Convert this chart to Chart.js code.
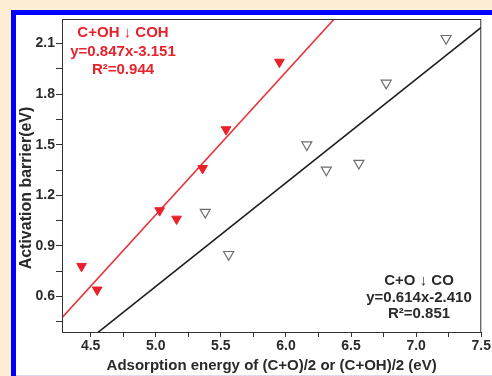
<!DOCTYPE html>
<html>
<head>
<meta charset="utf-8">
<script src="https://cdn.jsdelivr.net/npm/chart.js@4"></script>
<style>
  html, body { margin: 0; padding: 0; background: #fcefd6; }
  #wrap { width: 492px; height: 376px; position: relative; }
</style>
</head>
<body>
<div id="wrap"><canvas id="fitChart"></canvas></div>
<script>
// data
const cohX = [4.43, 4.55, 5.03, 5.16, 5.36, 5.54, 5.95];
const cohY = [0.78, 0.64, 1.11, 1.06, 1.36, 1.59, 1.99];
const coX = [5.38, 5.56, 6.16, 6.31, 6.56, 6.77, 7.23];
const coY = [1.10, 0.85, 1.50, 1.35, 1.39, 1.865, 2.13];

// linear fits (slope, intercept)
const cohFit = [0.847, -3.151];
const coFit = [0.614, -2.410];

const cohText = ['C+OH \u2193 COH', 'y=0.847x-3.151', 'R\u00B2=0.944'];
const coText = ['C+O \u2193 CO', 'y=0.614x-2.410', 'R\u00B2=0.851'];
const xTitle = 'Adsorption energy of (C+O)/2 or (C+OH)/2 (eV)';
const yTitle = 'Activation barrier(eV)';

const xRange = [4.28, 7.5];
const yRange = [0.39, 2.245];

const colors = {
  red: '#e8222b',
  redLine: '#e8343c',
  black: '#1e1e1e',
  open: '#6e6e6e',
  axis: '#333333',
  text: '#2a2a2a'
};
const fontFamily = '"Liberation Sans", Arial, sans-serif';

function toPoints(xs, ys) {
  return xs.map((x, i) => ({ x: x, y: ys[i] }));
}

function fitLine(fit) {
  return xRange.map(x => ({ x: x, y: fit[0] * x + fit[1] }));
}

// page background, blue frame, plot box, y title and annotations
const decorPlugin = {
  id: 'decor',
  beforeDraw(chart) {
    const ctx = chart.ctx;
    ctx.save();
    ctx.fillStyle = '#fcefd6';
    ctx.fillRect(0, 0, chart.width, chart.height);
    ctx.fillStyle = '#0000ff';
    ctx.fillRect(11, 10, chart.width - 11, chart.height - 10);
    ctx.fillStyle = '#ffffff';
    ctx.fillRect(16, 15, chart.width - 16, chart.height - 15);
    ctx.fillStyle = '#dcdcf0';
    ctx.fillRect(16, chart.height - 1, chart.width - 16, 1);
    ctx.restore();
  },
  afterDraw(chart) {
    const ctx = chart.ctx;
    const a = chart.chartArea;
    ctx.save();
    ctx.strokeStyle = colors.axis;
    ctx.lineWidth = 1;
    ctx.strokeRect(a.left + 0.5, a.top + 0.5, a.right - a.left - 1, a.bottom - a.top);

    ctx.textAlign = 'center';
    ctx.textBaseline = 'middle';
    ctx.fillStyle = colors.text;
    ctx.font = 'bold 16px ' + fontFamily;
    ctx.translate(27, 188);
    ctx.rotate(-Math.PI / 2);
    ctx.fillText(yTitle, 0, 0);
    ctx.setTransform(1, 0, 0, 1, 0, 0);

    ctx.font = 'bold 15px ' + fontFamily;
    ctx.fillStyle = colors.red;
    cohText.forEach((t, i) => ctx.fillText(t, a.left + 61, a.top + 14 + i * 18.5));
    ctx.fillStyle = colors.text;
    coText.forEach((t, i) => ctx.fillText(t, a.left + 357, a.top + 262 + i * 16.5));
    ctx.restore();
  }
};

const tickFont = { family: fontFamily, size: 14, weight: 'bold' };

new Chart(document.getElementById('fitChart'), {
  type: 'scatter',
  data: {
    datasets: [
      {
        label: 'C+OH fit',
        type: 'line',
        data: fitLine(cohFit),
        borderColor: colors.redLine,
        borderWidth: 1.6,
        pointRadius: 0,
        clip: 0,
        order: 3
      },
      {
        label: 'C+O fit',
        type: 'line',
        data: fitLine(coFit),
        borderColor: colors.black,
        borderWidth: 1.6,
        pointRadius: 0,
        clip: 0,
        order: 3
      },
      {
        label: 'C+OH -> COH',
        data: toPoints(cohX, cohY),
        pointStyle: 'triangle',
        rotation: 180,
        pointRadius: 5.6,
        backgroundColor: colors.red,
        borderColor: colors.red,
        borderWidth: 1,
        order: 1
      },
      {
        label: 'C+O -> CO',
        data: toPoints(coX, coY),
        pointStyle: 'triangle',
        rotation: 180,
        pointRadius: 5.8,
        backgroundColor: '#ffffff',
        borderColor: colors.open,
        borderWidth: 1.2,
        order: 1
      }
    ]
  },
  plugins: [decorPlugin],
  options: {
    responsive: true,
    maintainAspectRatio: false,
    animation: false,
    layout: {
      padding: { left: 0, top: 19, right: 4, bottom: 0 }
    },
    plugins: {
      legend: { display: false },
      tooltip: { enabled: false }
    },
    scales: {
      x: {
        type: 'linear',
        min: xRange[0],
        max: xRange[1],
        afterFit: s => { s.height = 44; },
        border: { display: false },
        grid: {
          drawOnChartArea: false,
          drawTicks: true,
          tickLength: 5,
          tickColor: colors.axis
        },
        ticks: {
          stepSize: 0.25,
          includeBounds: false,
          autoSkip: false,
          maxRotation: 0,
          padding: 1,
          color: colors.text,
          font: tickFont,
          callback: v => (Math.round(v / 0.25) % 2 === 0 ? v.toFixed(1) : '')
        },
        title: {
          display: true,
          text: xTitle,
          color: colors.text,
          font: { family: fontFamily, size: 15, weight: 'bold' },
          padding: { top: 0, bottom: 1 }
        }
      },
      y: {
        type: 'linear',
        min: yRange[0],
        max: yRange[1],
        afterFit: s => { s.width = 62; },
        border: { display: false },
        grid: {
          drawOnChartArea: false,
          drawTicks: true,
          tickLength: 6,
          tickColor: colors.axis
        },
        ticks: {
          stepSize: 0.15,
          includeBounds: false,
          autoSkip: false,
          padding: 1,
          color: colors.text,
          font: tickFont,
          callback: v => (Math.round(v / 0.15) % 2 === 0 ? v.toFixed(1) : '')
        }
      }
    }
  }
});
</script>
</body>
</html>
